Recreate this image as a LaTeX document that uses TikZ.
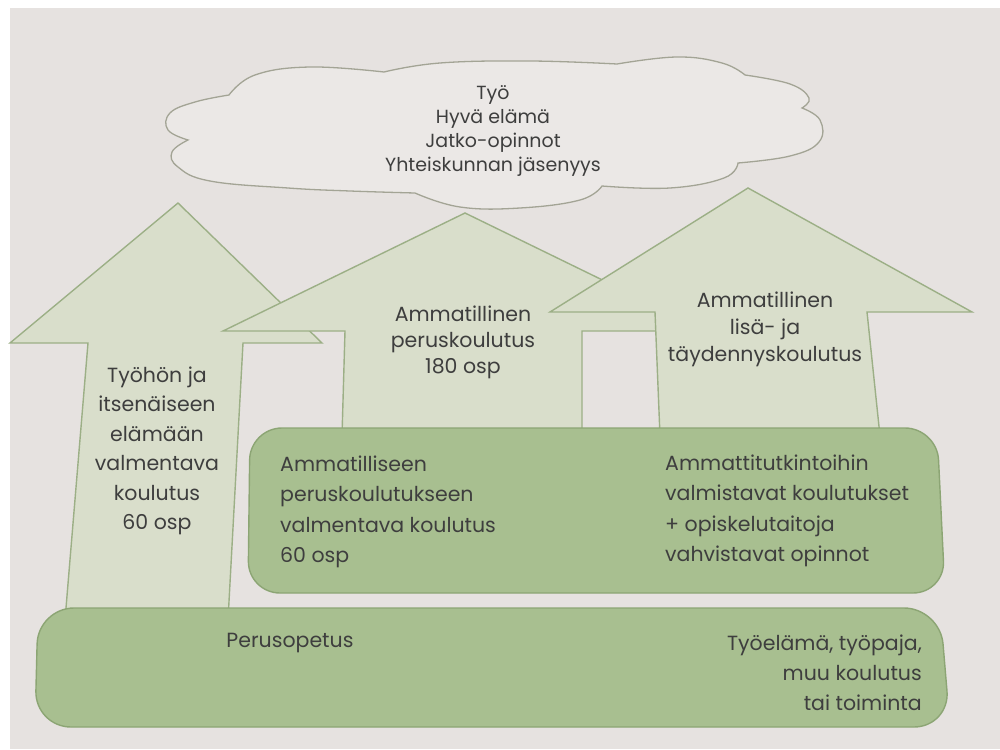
\documentclass[tikz,border=0pt]{standalone}
\usepackage{fontspec}
\setmainfont{Poppins}
\definecolor{bgc}{HTML}{E6E2E0}
\definecolor{arrowfill}{HTML}{D9DECB}
\definecolor{arrowline}{HTML}{9CAF86}
\definecolor{boxfill}{HTML}{A8BF90}
\definecolor{boxline}{HTML}{8CA574}
\definecolor{cloudline}{HTML}{A3A495}
\definecolor{txt}{HTML}{3E3E3E}
\tikzset{
  arrowshape/.style={fill=arrowfill, draw=arrowline, line width=1.4pt, line join=miter},
  boxshape/.style={fill=boxfill, draw=boxline, line width=1.4pt},
  cloudshape/.style={fill=bgc!80!white, draw=cloudline, line width=1.3pt},
  lbl/.style={text=txt, inner sep=0pt, font=\fontsize{20.5}{29.5}\selectfont},
}
\begin{document}
\begin{tikzpicture}[x=1pt,y=-1pt]
\useasboundingbox (0,0) rectangle (1000,749);
\fill[white] (0,0) rectangle (1000,749);
\fill[bgc] (10,8) rectangle (1000,749);

% cloud
\path[cloudshape] (229,95)
  -- plot[smooth,tension=0.7] coordinates {(229,95) (255,75) (310,67) (384,72)}
  -- plot[smooth,tension=0.7] coordinates {(384,72) (440,63) (530,61) (617,64)}
  -- plot[smooth,tension=0.7] coordinates {(617,64) (677,57) (722,63) (745,75)}
  -- plot[smooth,tension=0.7] coordinates {(745,75) (790,84) (809,98) (802,108)}
  -- plot[smooth,tension=0.7] coordinates {(802,108) (820,120) (819,142) (790,156) (738,163)}
  -- plot[smooth,tension=0.7] coordinates {(738,163) (724,178) (670,188) (602,186)}
  -- plot[smooth,tension=0.7] coordinates {(602,186) (580,200) (520,208) (460,207) (415,193)}
  -- plot[smooth,tension=0.7] coordinates {(415,193) (350,191) (288,188) (210,181) (178,167) (172,152) (188,140)}
  -- plot[smooth,tension=0.7] coordinates {(188,140) (168,130) (170,113) (195,102) (229,95)}
  -- cycle;
\node[lbl, align=center, font=\fontsize{19}{24.3}\selectfont] (cloudtext) at (493,131)
  {Työ\\Hyvä elämä\\Jatko-opinnot\\Yhteiskunnan jäsenyys};

% arrow 1 (left)
\path[arrowshape] (178,203) -- (322,343) -- (243,343) -- (228,620) -- (65,620)
  -- (88,343) -- (10,343) -- cycle;
% arrow 2 (middle)
\path[arrowshape] (465,213) -- (707,331) -- (582,331) -- (582,436) -- (342,436)
  -- (345,331) -- (223,331) -- cycle;
% arrow 3 (right)
\path[arrowshape] (748,188) -- (972,312) -- (867,312) -- (880,436) -- (660,436)
  -- (655,312) -- (550,312) -- cycle;

\node[lbl, align=center] (a1text) at (157,451)
  {Työhön ja\\itsenäiseen\\elämään\\valmentava\\koulutus\\60 osp};
\node[lbl, align=center, font=\fontsize{20.5}{26}\selectfont] (a2text) at (463,342)
  {Ammatillinen\\peruskoulutus\\180 osp};
\node[lbl, align=center, font=\fontsize{20.5}{27}\selectfont] (a3text) at (765,329)
  {Ammatillinen\\lisä- ja\\täydennyskoulutus};

% middle box
\path[boxshape, rounded corners=32pt] (250,428) -- (937,428) -- (945,593) -- (248,593) -- cycle;
\node[lbl, align=left, anchor=west, font=\fontsize{20.5}{30.5}\selectfont] (midleft) at (280,512)
  {Ammatilliseen\\peruskoulutukseen\\valmentava koulutus\\60 osp};
\node[lbl, align=left, anchor=west, font=\fontsize{20.5}{30.5}\selectfont] (midright) at (665,511)
  {Ammattitutkintoihin\\valmistavat koulutukset\\+ opiskelutaitoja\\vahvistavat opinnot};

% bottom box
\path[boxshape, rounded corners=36pt] (38,608) -- (940,608) -- (950,727) -- (35,727) -- cycle;
\node[lbl] (perus) at (290,643) {Perusopetus};
\node[lbl, align=right, anchor=east, font=\fontsize{20.5}{30}\selectfont] (tyoelama) at (922,673)
  {Työelämä, työpaja,\\muu koulutus\\tai toiminta};
\end{tikzpicture}
\end{document}
